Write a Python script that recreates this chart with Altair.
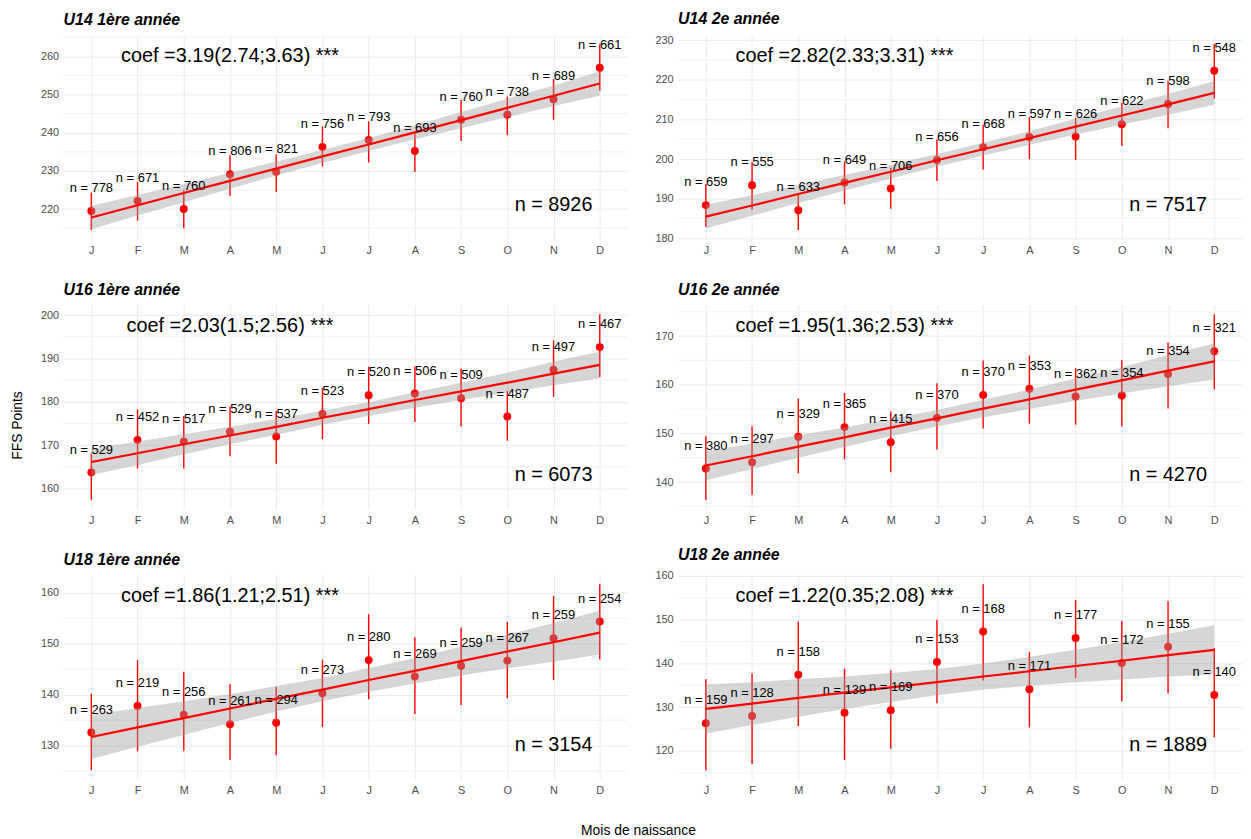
import altair as alt
import pandas as pd

FONT = "Liberation Sans"
MONTHS = ["J", "F", "M", "A", "M", "J", "J", "A", "S", "O", "N", "D"]
MONTH_NUM = list(range(1, 13))

# ---- U14 1ère année
u14_1_mean = [219.5, 222.1, 220.0, 229.1, 229.8, 236.3, 238.1, 235.2, 243.4, 244.7, 248.8, 257.0]
u14_1_lo = [214.5, 217.0, 215.0, 223.4, 224.5, 231.2, 232.2, 229.7, 237.8, 239.4, 243.4, 251.0]
u14_1_hi = [224.3, 227.1, 224.9, 234.1, 234.3, 241.7, 243.0, 239.8, 248.6, 249.5, 254.1, 263.2]
u14_1_n = [778, 671, 760, 806, 821, 756, 793, 693, 760, 738, 689, 661]
u14_1_fit = [217.8, 221.0, 224.2, 227.4, 230.6, 233.8, 236.9, 240.1, 243.3, 246.5, 249.7, 252.9]
u14_1_hw = [3.1, 2.7, 2.4, 2.1, 1.8, 1.7, 1.7, 1.8, 2.1, 2.4, 2.7, 3.2]

# ---- U14 2e année
u14_2_mean = [188.4, 193.4, 187.1, 194.1, 192.6, 199.8, 203.0, 205.6, 205.7, 208.8, 213.9, 222.3]
u14_2_lo = [182.9, 187.2, 182.1, 188.6, 187.5, 194.5, 197.4, 200.0, 199.8, 203.3, 207.8, 215.3]
u14_2_hi = [193.7, 199.3, 191.2, 199.4, 197.8, 205.0, 208.7, 210.6, 210.4, 214.2, 219.7, 229.0]
u14_2_n = [659, 555, 633, 649, 706, 656, 668, 597, 626, 622, 598, 548]
u14_2_fit = [185.5, 188.3, 191.2, 194.0, 196.8, 199.7, 202.5, 205.3, 208.2, 211.0, 213.8, 216.7]
u14_2_hw = [3.0, 2.6, 2.3, 2.0, 1.7, 1.6, 1.6, 1.7, 2.0, 2.3, 2.6, 3.0]

# ---- U16 1ère année
u16_1_mean = [163.7, 171.2, 170.8, 173.1, 172.0, 177.2, 181.5, 181.9, 180.8, 176.6, 187.4, 192.6]
u16_1_lo = [157.3, 164.6, 164.6, 167.4, 165.7, 171.4, 174.9, 175.3, 174.3, 171.0, 181.1, 185.7]
u16_1_hi = [168.0, 178.2, 176.7, 178.9, 177.9, 183.2, 188.1, 188.1, 187.6, 182.5, 194.2, 200.2]
u16_1_n = [529, 452, 517, 529, 537, 523, 520, 506, 509, 487, 497, 467]
u16_1_fit = [166.1, 168.1, 170.2, 172.2, 174.2, 176.3, 178.3, 180.4, 182.4, 184.4, 186.5, 188.5]
u16_1_hw = [3.0, 2.7, 2.3, 2.0, 1.8, 1.6, 1.6, 1.8, 2.0, 2.3, 2.7, 3.1]

# ---- U16 2e année
u16_2_mean = [142.8, 144.1, 149.3, 151.3, 148.2, 153.2, 157.9, 159.2, 157.6, 157.8, 162.2, 166.9]
u16_2_lo = [136.3, 137.4, 141.8, 144.7, 142.0, 146.7, 151.0, 152.0, 151.8, 151.4, 155.1, 159.1]
u16_2_hi = [149.4, 151.5, 157.2, 158.3, 154.5, 160.3, 165.0, 166.0, 163.4, 165.1, 168.7, 174.5]
u16_2_n = [380, 297, 329, 365, 415, 370, 370, 353, 362, 354, 354, 321]
u16_2_fit = [143.4, 145.3, 147.3, 149.2, 151.2, 153.1, 155.1, 157.0, 159.0, 160.9, 162.9, 164.8]
u16_2_hw = [3.0, 2.6, 2.3, 2.0, 1.8, 1.7, 1.8, 2.0, 2.3, 2.7, 3.2, 3.7]

# ---- U18 1ère année
u18_1_mean = [132.6, 137.8, 136.1, 134.2, 134.5, 140.3, 146.8, 143.6, 145.7, 146.7, 151.1, 154.4]
u18_1_lo = [125.2, 128.9, 129.0, 127.2, 128.1, 133.7, 139.1, 136.2, 138.0, 139.3, 142.9, 146.9]
u18_1_hi = [140.2, 146.8, 144.5, 142.1, 141.5, 146.9, 155.8, 151.3, 153.2, 154.3, 159.4, 161.7]
u18_1_n = [263, 219, 256, 261, 294, 273, 280, 269, 259, 267, 259, 254]
u18_1_fit = [131.7, 133.6, 135.4, 137.3, 139.2, 141.0, 142.9, 144.7, 146.6, 148.5, 150.3, 152.2]
u18_1_hw = [4.3, 3.8, 3.3, 2.8, 2.5, 2.3, 2.3, 2.5, 2.8, 3.3, 3.8, 4.3]

# ---- U18 2e année
u18_2_mean = [126.3, 128.0, 137.4, 128.7, 129.3, 140.3, 147.3, 134.1, 145.8, 140.1, 143.8, 132.8]
u18_2_lo = [115.6, 117.0, 125.7, 117.9, 120.5, 130.9, 136.1, 125.4, 136.7, 131.3, 133.1, 123.1]
u18_2_hi = [136.4, 137.7, 149.5, 138.8, 138.4, 150.0, 158.1, 142.6, 154.5, 149.7, 154.2, 143.5]
u18_2_n = [159, 128, 158, 139, 169, 153, 168, 171, 177, 172, 155, 140]
u18_2_fit = [129.6, 130.8, 132.1, 133.3, 134.5, 135.7, 137.0, 138.2, 139.4, 140.6, 141.9, 143.1]
u18_2_hw = [5.6, 4.9, 4.3, 3.7, 3.3, 3.0, 3.0, 3.3, 3.7, 4.3, 4.9, 5.6]

TITLES = ["U14 1ère année", "U14 2e année", "U16 1ère année",
          "U16 2e année", "U18 1ère année", "U18 2e année"]
COEFS = ["coef =3.19(2.74;3.63) ***", "coef =2.82(2.33;3.31) ***",
         "coef =2.03(1.5;2.56) ***", "coef =1.95(1.36;2.53) ***",
         "coef =1.86(1.21;2.51) ***", "coef =1.22(0.35;2.08) ***"]
TOTALS = [8926, 7517, 6073, 4270, 3154, 1889]
TICKS = [[220, 230, 240, 250, 260], [180, 190, 200, 210, 220, 230],
         [160, 170, 180, 190, 200], [140, 150, 160, 170],
         [130, 140, 150, 160], [120, 130, 140, 150, 160]]
MINOR = [[215, 225, 235, 245, 255, 265], [185, 195, 205, 215, 225],
         [165, 175, 185, 195], [135, 145, 155, 165, 175],
         [125, 135, 145, 155], [115, 125, 135, 145, 155]]

SERIES = [
    (u14_1_mean, u14_1_lo, u14_1_hi, u14_1_n, u14_1_fit, u14_1_hw),
    (u14_2_mean, u14_2_lo, u14_2_hi, u14_2_n, u14_2_fit, u14_2_hw),
    (u16_1_mean, u16_1_lo, u16_1_hi, u16_1_n, u16_1_fit, u16_1_hw),
    (u16_2_mean, u16_2_lo, u16_2_hi, u16_2_n, u16_2_fit, u16_2_hw),
    (u18_1_mean, u18_1_lo, u18_1_hi, u18_1_n, u18_1_fit, u18_1_hw),
    (u18_2_mean, u18_2_lo, u18_2_hi, u18_2_n, u18_2_fit, u18_2_hw),
]

W, H = 568, 206
LABEL_EXPR = "[" + ",".join("'%s'" % c for c in MONTHS) + "][datum.value - 1]"


def panel(i):
    mean, lo, hi, n, fit, hw = SERIES[i]
    df = pd.DataFrame({
        "m": MONTH_NUM, "mean": mean, "lo": lo, "hi": hi,
        "lab": ["n = %d" % v for v in n], "fit": fit,
    })
    df["blo"] = df["fit"] - pd.Series(hw)
    df["bhi"] = df["fit"] + pd.Series(hw)
    ymin = min(df["lo"].min(), df["blo"].min())
    ymax = max(df["hi"].max(), df["bhi"].max())
    pad = 0.05 * (ymax - ymin)
    xs = alt.Scale(domain=[0.4, 12.6], nice=False, zero=False)
    ys = alt.Scale(domain=[ymin - pad, ymax + pad], nice=False, zero=False)
    xax = alt.Axis(values=MONTH_NUM, labelExpr=LABEL_EXPR, title=None, grid=True,
                   gridColor="#ebebeb", gridWidth=1, domain=False, ticks=False,
                   labelColor="#4d4d4d", labelFontSize=11, labelPadding=5,
                   labelFont=FONT)
    if i == 2:
        yax = alt.Axis(values=TICKS[i], title="FFS Points", grid=True,
                       gridColor="#ebebeb", gridWidth=1, domain=False, ticks=False,
                       labelColor="#4d4d4d", labelFontSize=11, labelPadding=5,
                       labelFont=FONT, titleFont=FONT, titleFontSize=14,
                       titleFontWeight="normal", titleColor="black",
                       titlePadding=16, titleY=121)
    else:
        yax = alt.Axis(values=TICKS[i], title=None, grid=True,
                       gridColor="#ebebeb", gridWidth=1, domain=False, ticks=False,
                       labelColor="#4d4d4d", labelFontSize=11, labelPadding=5,
                       labelFont=FONT)

    def X(f="m"):
        return alt.X(f + ":Q", scale=xs, axis=xax)

    def Y(f):
        return alt.Y(f + ":Q", scale=ys, axis=yax)

    base = alt.Chart(df)
    minor = alt.Chart(pd.DataFrame({"v": MINOR[i]})).mark_rule(
        color="#f1f1f1", strokeWidth=1).encode(y=Y("v"))
    bars = base.mark_rule(color="#ff0000", strokeWidth=1.4).encode(
        x=X(), y=Y("lo"), y2="hi:Q")
    pts = base.mark_circle(color="#ff0000", size=64, opacity=1).encode(
        x=X(), y=Y("mean"))
    band = base.mark_area(color="#999999", opacity=0.4).encode(
        x=X(), y=Y("blo"), y2="bhi:Q")
    line = base.mark_line(color="#ff0000", strokeWidth=2.2).encode(
        x=X(), y=Y("fit"))
    nlab = base.mark_text(font=FONT, fontSize=13, dy=-23, color="black",
                          baseline="middle").encode(x=X(), y=Y("mean"), text="lab:N")
    coef = alt.Chart(pd.DataFrame({"m": [4], "t": [COEFS[i]]})).mark_text(
        font=FONT, fontSize=20, color="black", baseline="middle").encode(
        x=X(), y=alt.value(21), text="t:N")
    tot = alt.Chart(pd.DataFrame({"m": [11], "t": ["n = %d" % TOTALS[i]]})).mark_text(
        font=FONT, fontSize=20, color="black", baseline="middle").encode(
        x=X(), y=alt.value(H - 35), text="t:N")
    return alt.layer(minor, bars, pts, band, line, nlab, coef, tot).properties(
        width=W, height=H,
        title=alt.TitleParams(TITLES[i], anchor="start", frame="group",
                              font=FONT, fontSize=16, fontWeight="bold",
                              fontStyle="italic", color="black", offset=7))


chart = alt.concat(*[panel(i) for i in range(6)], columns=2,
                   spacing=alt.RowColnumber(row=66, column=51),
                   bounds="flush").properties(
    title=alt.TitleParams("Mois de naissance", orient="bottom", anchor="middle",
                          font=FONT, fontSize=14, fontWeight="normal",
                          color="black", offset=29, dx=12),
    padding={"left": 2, "top": 0, "right": 0, "bottom": 5},
    background="white",
).configure_view(stroke=None)

chart.save("out.html", embed_options={"renderer": "svg", "actions": False})
